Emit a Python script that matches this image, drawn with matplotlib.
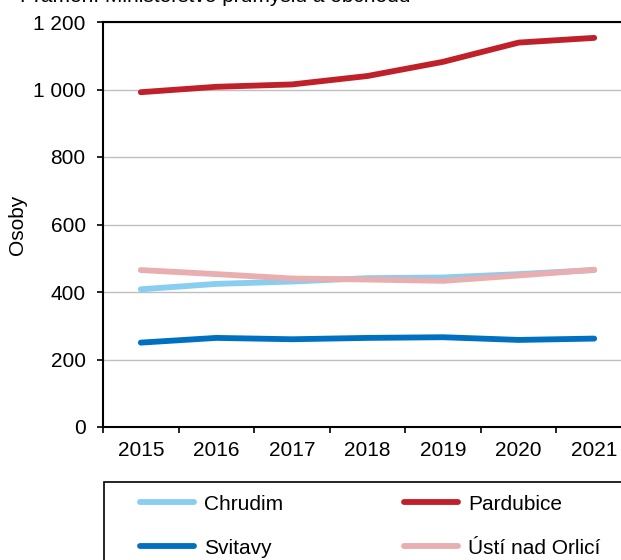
import matplotlib
matplotlib.use("Agg")
import matplotlib.pyplot as plt
from matplotlib.ticker import FuncFormatter, FixedLocator
from matplotlib.patches import Rectangle

plt.rcParams['font.family'] = ['Liberation Sans', 'DejaVu Sans']

# data
years = ['2015', '2016', '2017', '2018', '2019', '2020', '2021']
chrudim = [408, 424, 431, 441, 443, 453, 465]
pardubice = [992, 1008, 1015, 1040, 1082, 1139, 1153]
svitavy = [250, 264, 260, 264, 266, 258, 262]
usti = [465, 453, 440, 437, 433, 449, 466]

names = ['Chrudim', 'Pardubice', 'Svitavy', 'Ústí nad Orlicí']
colors = ['#89CDF1', '#C0202A', '#0070C0', '#E8AEB0']
series = [chrudim, pardubice, svitavy, usti]

W, H = 621, 560
fig = plt.figure(figsize=(W / 100, H / 100), dpi=100)

# axes: x range -0.5..6.5 runs past right edge of the picture
ax = fig.add_axes([103 / W, 1 - 427 / H, 529 / W, 405 / H])

x = list(range(len(years)))
for vals, c, n in zip(series, colors, names):
    ax.plot(x, vals, color=c, lw=4.2, solid_capstyle='round', label=n)

ax.set_xlim(-0.5, 6.5)
ax.set_ylim(0, 1200)
ax.set_yticks(range(0, 1201, 200))
ax.yaxis.set_major_formatter(FuncFormatter(lambda v, p: '{:,.0f}'.format(v).replace(',', ' ')))
ax.grid(axis='y', color='#BFBFBF', lw=1)
ax.set_axisbelow(True)

ax.xaxis.set_major_locator(FixedLocator([i - 0.5 for i in range(8)]))
ax.xaxis.set_minor_locator(FixedLocator(x))
ax.xaxis.set_major_formatter(FuncFormatter(lambda v, p: ''))
ax.set_xticklabels(years, minor=True)
ax.tick_params(axis='x', which='major', direction='out', length=4.5, width=1.2)
ax.tick_params(axis='x', which='minor', length=0, pad=10, labelsize=15)
ax.tick_params(axis='y', direction='out', length=4.5, width=1.2, pad=8, labelsize=15)

for s in ['left', 'bottom', 'top']:
    ax.spines[s].set_linewidth(1.5)
    ax.spines[s].set_color('black')
ax.spines['right'].set_visible(False)

ax.set_ylabel('Osoby', fontsize=15)
ax.yaxis.set_label_coords(-76 / 529, 0.5)

fig.text(20 / W, 1 - 2.5 / H, 'Pramen: Ministerstvo průmyslu a obchodu',
         fontsize=15, va='baseline', ha='left')

# legend box
fig.patches.append(Rectangle((104 / W, -0.05), 0.9, 1 - 482 / H + 0.05,
                             transform=fig.transFigure, fill=False,
                             edgecolor='black', lw=1.2, clip_on=False))
handles, labels = ax.get_legend_handles_labels()
order = [0, 2, 1, 3]
fig.legend([handles[i] for i in order], [labels[i] for i in order],
           loc='upper left', ncols=2,
           bbox_to_anchor=(121 / W, 1 - 476 / H), frameon=False,
           fontsize=15, handlelength=2.6, handletextpad=0.48,
           columnspacing=5.8, labelspacing=1.2)

fig.savefig('out.png', dpi=100)
